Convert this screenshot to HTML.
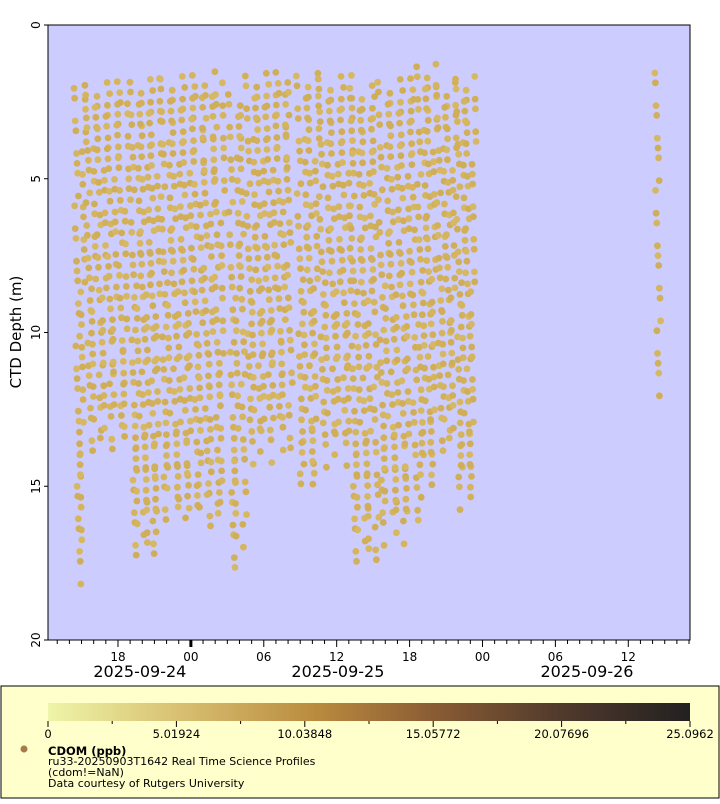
<!DOCTYPE html>
<html><head><meta charset="utf-8"><style>
body{margin:0;background:#fff;width:720px;height:800px;overflow:hidden;font-family:"DejaVu Sans","Liberation Sans",sans-serif}
</style></head><body>
<svg id="chart" width="720" height="800" xmlns="http://www.w3.org/2000/svg" font-family="DejaVu Sans, Liberation Sans, sans-serif">
<defs><linearGradient id="cb" x1="0" x2="1" y1="0" y2="0">
<stop offset="0" stop-color="#eef5a8"/><stop offset="0.2" stop-color="#d9c172"/><stop offset="0.42" stop-color="#b98a3e"/><stop offset="0.6" stop-color="#8a5c34"/><stop offset="0.8" stop-color="#503a2c"/><stop offset="1" stop-color="#222020"/></linearGradient></defs>
<rect x="48" y="25" width="642" height="615" fill="#ccccff" stroke="#000" stroke-width="1"/>
<g id="dots"></g>
<g id="axes"></g>
<text transform="translate(21,332) rotate(-90)" text-anchor="middle" font-size="15" fill="#000">CTD Depth (m)</text>
<rect x="1" y="686" width="718" height="112" fill="#ffffcc" stroke="#000"/>
<rect x="48" y="703" width="642" height="18" fill="url(#cb)"/>
<g id="cbticks"></g>
<circle cx="24" cy="749" r="3.5" fill="#a57a4a"/>
<text x="48" y="755" font-size="11.5" font-weight="bold">CDOM (ppb)</text>
<text x="48" y="765" font-size="11">ru33-20250903T1642 Real Time Science Profiles</text>
<text x="48" y="776" font-size="11">(cdom!=NaN)</text>
<text x="48" y="787" font-size="11">Data courtesy of Rutgers University</text>
</svg>
<script>
// hours since 2025-09-23 00:00
const segStart = [14.5, 15.4, 19.1, 21.6, 27.2, 28.6, 32.8, 34.6, 37.2, 39.5, 42.7, 44.3, 45.9, 62.3];
const segEnd   = [15.3, 18.9, 21.5, 26.8, 28.5, 32.3, 34.5, 37.3, 39.4, 42.6, 44.2, 45.8, 47.4, 62.6];
const segTop   = [2.0, 1.9, 1.8, 1.7, 2.2, 1.6, 1.6, 1.7, 2.0, 1.8, 1.3, 1.9, 1.7, 1.5];
const segBot   = [18.0, 14.0, 17.5, 16.5, 18.0, 14.2, 15.5, 14.5, 17.8, 17.0, 15.5, 14.2, 16.0, 12.3];
const yTicks = [0, 5, 10, 15, 20];
const xMajorHours = [18, 24, 30, 36, 42, 48, 54, 60];
const xMajorLabels = ['18','00','06','12','18','00','06','12'];
const dateHours = [19.8, 36.1, 56.6];
const dateLabels = ['2025-09-24','2025-09-25','2025-09-26'];
const cbValues = [0, 5.01924, 10.03848, 15.05772, 20.07696, 25.0962];

const X0=48,X1=690,Y0=25,Y1=640,H0=12.24,H1=65.08,D0=0,D1=20;
const xs=h=>X0+(h-H0)/(H1-H0)*(X1-X0);
const ys=d=>Y0+(d-D0)/(D1-D0)*(Y1-Y0);
const NS='http://www.w3.org/2000/svg';
function mk(t,a,p){const e=document.createElementNS(NS,t);for(const k in a)e.setAttribute(k,a[k]);p.appendChild(e);return e;}
const dots=document.getElementById('dots');
const cols=['#d4b45c','#d1b058','#d6b862','#cfae57'];
let n=0;
for(let s=0;s<segStart.length;s++){
  const dur=0.42, span=segEnd[s]-segStart[s];
  const nd=Math.max(1,Math.round(span/dur));
  for(let k=0;k<nd;k++){
    const h0=segStart[s]+k*span/nd;
    const top=segTop[s]+((k*7)%5)*0.15, bot=segBot[s]-((k*3)%4)*0.4;
    let i=0;
    for(let d=top; d<=bot; d+=0.5){
      i++;
      const f=(d-top)/(bot-top);
      const jx=(((i*37+k*13)%9)-4)*0.04;
      const jy=(((i*53+k*29)%7)-3)*0.06;
      const h=h0+(k%2?1-f:f)*span/nd*0.9+jx;
      const c=mk('circle',{cx:xs(h).toFixed(1),cy:ys(d+jy).toFixed(1),r:3.4,fill:cols[n++%4]},dots);
      
      
    }
  }
}
const ax=document.getElementById('axes');
yTicks.forEach(v=>{
  mk('line',{x1:44,x2:48,y1:ys(v),y2:ys(v),stroke:'#000'},ax);
  const t=mk('text',{transform:`translate(40,${ys(v)}) rotate(-90)`,'text-anchor':'middle','font-size':12},ax);
  t.textContent=v;
  
  
});
for(let h=Math.ceil(H0);h<=H1;h++){
  const maj=h%6===0;
  mk('line',{x1:xs(h),x2:xs(h),y1:640,y2:maj?647:644,stroke:'#000','stroke-width':h===24?3:1},ax);
}
xMajorHours.forEach((h,i)=>{
  const t=mk('text',{x:xs(h),y:661,'text-anchor':'middle','font-size':12},ax);
  t.textContent=xMajorLabels[i];
  
  
});
dateHours.forEach((h,i)=>{
  const t=mk('text',{x:xs(h),y:677,'text-anchor':'middle','font-size':16},ax);
  t.textContent=dateLabels[i];
  
  
});
const cb=document.getElementById('cbticks');
const cx=v=>48+v/25.0962*642;
for(let i=0;i<=10;i++){const v=i*25.0962/10;mk('line',{x1:cx(v),x2:cx(v),y1:721,y2:i%2?724:727,stroke:'#000'},cb);}
cbValues.forEach((v,i)=>{
  const t=mk('text',{x:cx(v),y:738,'text-anchor':'middle','font-size':11.5},cb);
  t.textContent=v===0?'0':String(v);
  
  
});
</script>
</body></html>
